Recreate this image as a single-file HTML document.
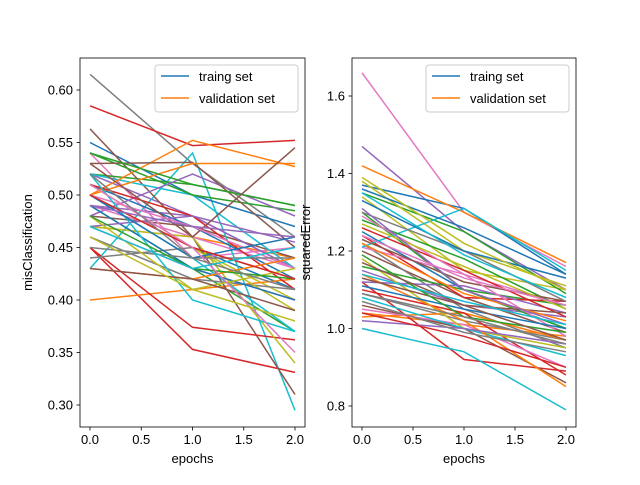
<!DOCTYPE html>
<html><head><meta charset="utf-8"><style>
body{margin:0;background:#fff}
svg text{font-family:"Liberation Sans","DejaVu Sans",sans-serif;font-size:13px;fill:#000}
</style></head><body>
<svg id="chart" width="640" height="480" viewBox="0 0 640 480" xmlns="http://www.w3.org/2000/svg"></svg>
<script>
const colors=["#1f77b4","#ff7f0e","#2ca02c","#d62728","#9467bd","#8c564b","#e377c2","#7f7f7f","#bcbd22","#17becf"];
const epochs=[0,1,2];
const xTicks=[0,0.5,1,1.5,2];
const leftTicks=[0.30,0.35,0.40,0.45,0.50,0.55,0.60];
const rightTicks=[0.8,1.0,1.2,1.4,1.6];
const legendLabels=["traing set","validation set"];
const misSeries=[
[0.50,0.45,0.41],[0.47,0.46,0.44],[0.49,0.43,0.37],[0.45,0.353,0.331],[0.52,0.48,0.43],[0.48,0.47,0.44],[0.54,0.44,0.45],[0.615,0.53,0.46],[0.51,0.45,0.40],[0.43,0.54,0.295],
[0.55,0.50,0.47],[0.40,0.41,0.42],[0.52,0.51,0.49],[0.585,0.547,0.552],[0.49,0.48,0.43],[0.563,0.46,0.31],[0.47,0.43,0.40],[0.46,0.42,0.41],[0.50,0.45,0.39],[0.52,0.50,0.43],
[0.51,0.47,0.42],[0.50,0.552,0.527],[0.54,0.50,0.485],[0.45,0.374,0.362],[0.48,0.52,0.48],[0.53,0.531,0.45],[0.49,0.46,0.43],[0.44,0.45,0.42],[0.47,0.46,0.34],[0.50,0.44,0.37],
[0.49,0.43,0.40],[0.50,0.53,0.53],[0.54,0.51,0.49],[0.51,0.48,0.41],[0.47,0.48,0.455],[0.53,0.46,0.545],[0.50,0.47,0.43],[0.45,0.44,0.44],[0.48,0.41,0.43],[0.52,0.40,0.37],
[0.50,0.44,0.46],[0.43,0.42,0.44],[0.48,0.43,0.42],[0.50,0.45,0.42],[0.49,0.47,0.46],[0.43,0.42,0.39],[0.51,0.45,0.35],[0.52,0.44,0.41],[0.46,0.41,0.38],[0.47,0.43,0.45]
];
const sqSeries=[
[1.25,1.10,1.00],[1.04,1.01,0.98],[1.30,1.10,1.06],[1.12,0.92,0.89],[1.47,1.25,1.10],[1.20,1.08,0.99],[1.66,1.30,1.16],[1.22,1.05,0.95],[1.34,1.15,1.10],[1.00,0.94,0.79],
[1.37,1.31,1.14],[1.42,1.30,1.17],[1.35,1.25,1.09],[1.24,1.08,1.07],[1.15,1.06,1.03],[1.06,1.00,0.86],[1.21,1.14,1.06],[1.09,1.02,0.97],[1.38,1.20,1.11],[1.21,1.31,1.15],
[1.36,1.26,1.14],[1.03,1.04,0.97],[1.28,1.18,1.05],[1.10,1.04,0.88],[1.12,1.11,1.04],[1.23,1.12,1.07],[1.05,1.01,0.90],[1.30,1.20,1.07],[1.18,1.00,0.95],[1.08,1.00,0.93],
[1.33,1.20,1.13],[1.14,1.02,0.85],[1.16,1.10,1.00],[1.26,1.15,1.03],[1.02,1.00,0.96],[1.13,1.06,1.04],[1.29,1.14,0.98],[1.07,0.99,0.94],[1.27,1.16,1.05],[1.35,1.19,1.08],
[1.11,1.05,1.00],[1.22,1.09,1.02],[1.19,1.03,0.99],[1.04,0.98,0.90],[1.31,1.10,1.01],[1.17,1.06,0.97],[1.24,1.13,1.06],[1.09,1.03,0.96],[1.39,1.22,1.10],[1.14,1.07,1.01]
];
const NS="http://www.w3.org/2000/svg";
const svg=document.getElementById('chart');
function mk(tag,attrs,parent){const e=document.createElementNS(NS,tag);for(const k in attrs)e.setAttribute(k,attrs[k]);(parent||svg).appendChild(e);return e;}
function panel(p){
  const g=mk('g',{});
  
  
  const x=v=>p.x0+(v-p.xmin)*(p.x1-p.x0)/(p.xmax-p.xmin);
  const y=v=>p.y0-(v-p.ymin)*(p.y0-p.y1)/(p.ymax-p.ymin);
  p.series.forEach((s,i)=>{
    const d=s.map((v,j)=>(j?'L':'M')+x(epochs[j]).toFixed(1)+','+y(v).toFixed(1)).join('');
    const l=mk('path',{d:d,fill:'none',stroke:colors[i%10],'stroke-width':1.5},g);
    
    
  });
  const fr=mk('rect',{x:p.L,y:p.T,width:p.R-p.L,height:p.B-p.T,fill:'none',stroke:'#000','stroke-width':0.8},g);
  
  
  xTicks.forEach(t=>{const xx=x(t);mk('line',{x1:xx,x2:xx,y1:p.B,y2:p.B+3.5,stroke:'#000','stroke-width':0.8},g);
    const tx=mk('text',{x:xx,y:p.B+17,'text-anchor':'middle'},g);tx.textContent=t.toFixed(1);
    
    });
  p.ticks.forEach(t=>{const yy=y(t);mk('line',{x1:p.L-3.5,x2:p.L,y1:yy,y2:yy,stroke:'#000','stroke-width':0.8},g);
    const tx=mk('text',{x:p.L-7,y:yy+4.5,'text-anchor':'end'},g);tx.textContent=t.toFixed(p.dec);
    
    });
  const xl=mk('text',{x:(p.L+p.R)/2,y:p.B+36,'text-anchor':'middle'},g);xl.textContent='epochs';
  
  
  const cy=(p.T+p.B)/2;
  const yl=mk('text',{x:p.ylx,y:cy,'text-anchor':'middle',transform:`rotate(-90 ${p.ylx} ${cy})`},g);yl.textContent=p.ylabel;
  
  
  const lg=mk('g',{},g);
  
  
  mk('rect',{x:p.lgx,y:65,width:p.R-7-p.lgx,height:47,rx:3,fill:'#fff','fill-opacity':0.8,stroke:'#ccc'},lg);
  legendLabels.forEach((lab,i)=>{const yy=76+i*22;
    mk('line',{x1:p.lgx+6,x2:p.lgx+34,y1:yy,y2:yy,stroke:colors[i],'stroke-width':1.5},lg);
    const t=mk('text',{x:p.lgx+44,y:yy+5},lg);t.textContent=lab;
    
    });
}
panel({name:'misclassification-panel',L:80,R:305,T:58,B:427,x0:90,x1:295,xmin:0,xmax:2,y0:405,y1:90,ymin:0.30,ymax:0.60,
  series:misSeries,ticks:leftTicks,dec:2,ylabel:'misClassification',ylx:32,lgx:155});
panel({name:'squared-error-panel',L:352,R:576,T:58,B:427,x0:362,x1:566,xmin:0,xmax:2,y0:406,y1:96,ymin:0.8,ymax:1.6,
  series:sqSeries,ticks:rightTicks,dec:1,ylabel:'squaredError',ylx:310,lgx:426});
</script>
</body></html>
